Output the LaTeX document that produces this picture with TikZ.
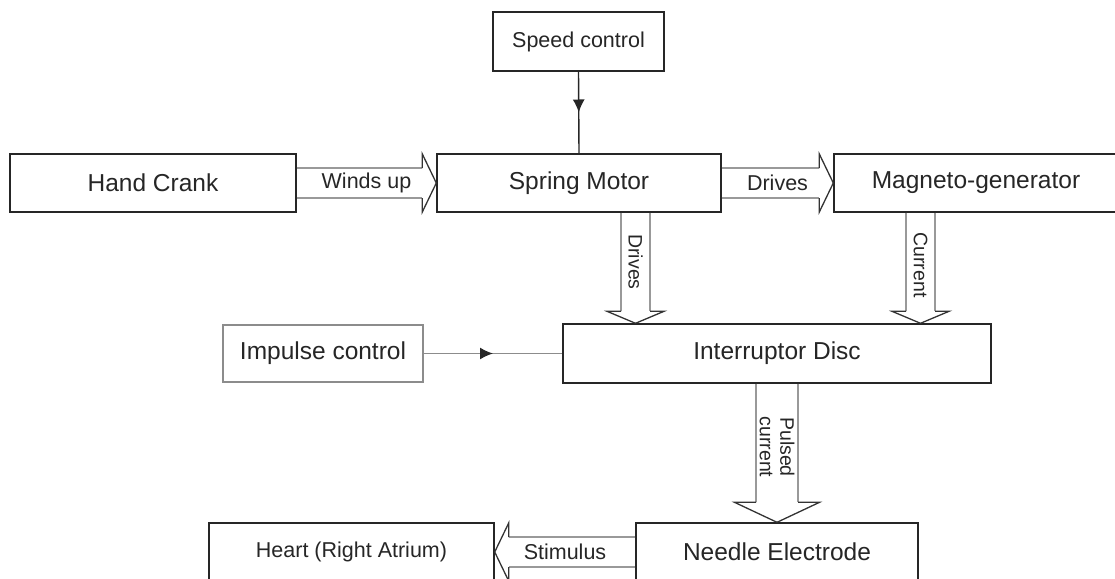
\documentclass[tikz,border=0pt]{standalone}
\usepackage{fontspec}
\setmainfont{Liberation Sans}
\usetikzlibrary{arrows.meta,calc}
\tikzset{
  pmbox/.style={draw=black!85, line width=1.4pt, fill=white, minimum height=58pt,
    inner sep=0pt, text=black!85, font=\fontsize{24.5}{28}\selectfont},
  pmsmall/.style={pmbox, font=\fontsize{21.5}{25}\selectfont},
  pmgrey/.style={pmbox, draw=black!45},
  pmbody/.style={draw=black!40, line width=1.4pt},
  pmhead/.style={draw=black!80, line width=1.3pt, line join=miter},
  pmlabel/.style={text=black!85, inner sep=0pt,
    font=\fontsize{21.5}{25}\selectfont},
  pmvlabel/.style={pmlabel, rotate=-90, align=center,
    font=\fontsize{19.5}{20.5}\selectfont},
  pmline/.style={draw=black!85, line width=1.4pt},
  pmtip/.style={-{Latex[length=13pt,width=12pt,color=black!85]}}
}
\begin{document}
\begin{tikzpicture}[x=1pt, y=-1pt]
  \useasboundingbox (0,0) rectangle (1115,578);
  \clip (0,0) rectangle (1115,578);

  % blocks
  \node[pmsmall, minimum width=171pt, minimum height=59pt] (speed) at (578.5,41.5)
    {Speed control};
  \node[pmbox, minimum width=286pt] (crank) at (153,183) {Hand Crank};
  \node[pmbox, minimum width=284pt] (spring) at (579,183) {Spring Motor};
  \node[pmbox, minimum width=284pt] (magneto) at (976,183) {Magneto-generator};
  \node[pmgrey, minimum width=200pt, minimum height=57pt] (impulse) at (323,353.5)
    {Impulse control};
  \node[pmbox, minimum width=428pt, minimum height=59pt] (interr) at (777,353.5)
    {Interruptor Disc};
  \node[pmbox, minimum width=282pt] (needle) at (777,552) {Needle Electrode};
  \node[pmsmall, minimum width=285pt] (heart) at (351.5,552)
    {Heart (Right Atrium)};

  % control lines
  \draw[pmline, pmtip] (speed.south) -- ($(speed.south)!0.5!(spring.north)$);
  \draw[pmline] ($(speed.south)!0.45!(spring.north)$) -- (spring.north);
  \draw[pmline, draw=black!45] (impulse.east) -- (interr.west);
  \draw[pmline, draw=black!45, pmtip] (impulse.east)
    -- ($(impulse.east)!0.5!(interr.west)$);

  % winds up
  \draw[pmbody] ($(crank.east)+(0,-15)$) -- ($(spring.west)+(-14,-15)$)
    ($(crank.east)+(0,15)$) -- ($(spring.west)+(-14,15)$);
  \draw[pmhead] ($(spring.west)+(-14,-15)$) -- ++(0,-14) -- (spring.west)
    -- ($(spring.west)+(-14,29)$) -- ++(0,-14);
  \node[pmlabel] (windsup) at ($(crank.east)!0.5!(spring.west)$) {Winds up};

  % drives (to magneto)
  \draw[pmbody] ($(spring.east)+(0,-15)$) -- ($(magneto.west)+(-14,-15)$)
    ($(spring.east)+(0,15)$) -- ($(magneto.west)+(-14,15)$);
  \draw[pmhead] ($(magneto.west)+(-14,-15)$) -- ++(0,-14) -- (magneto.west)
    -- ($(magneto.west)+(-14,29)$) -- ++(0,-14);
  \node[pmlabel] (driveh) at ($(spring.east)!0.5!(magneto.west)$) {Drives};

  % drives (to interruptor)
  \coordinate (drtail) at ([xshift=56.5pt]spring.south);
  \coordinate (drtip) at (drtail |- interr.north);
  \draw[pmbody] ($(drtail)+(-14.5,0)$) -- ($(drtip)+(-14.5,-12)$)
    ($(drtail)+(14.5,0)$) -- ($(drtip)+(14.5,-12)$);
  \draw[pmhead] ($(drtip)+(-14.5,-12)$) -- ++(-14,0) -- (drtip)
    -- ($(drtip)+(28.5,-12)$) -- ++(-14,0);
  \node[pmvlabel] (drivev) at ($(drtail)!0.5!(drtip)+(0,-6)$) {Drives};

  % current
  \coordinate (cutail) at ([xshift=-55.5pt]magneto.south);
  \coordinate (cutip) at (cutail |- interr.north);
  \draw[pmbody] ($(cutail)+(-14.5,0)$) -- ($(cutip)+(-14.5,-12)$)
    ($(cutail)+(14.5,0)$) -- ($(cutip)+(14.5,-12)$);
  \draw[pmhead] ($(cutip)+(-14.5,-12)$) -- ++(-14,0) -- (cutip)
    -- ($(cutip)+(28.5,-12)$) -- ++(-14,0);
  \node[pmvlabel] (current) at ($(cutail)!0.5!(cutip)+(0,-3)$) {Current};

  % pulsed current
  \draw[pmbody] ($(interr.south)+(-21,0)$) -- ($(needle.north)+(-21,-20)$)
    ($(interr.south)+(21,0)$) -- ($(needle.north)+(21,-20)$);
  \draw[pmhead] ($(needle.north)+(-21,-20)$) -- ++(-21.5,0) -- (needle.north)
    -- ($(needle.north)+(42.5,-20)$) -- ++(-21.5,0);
  \node[pmvlabel] (pulsed) at ($(interr.south)!0.5!(needle.north)+(0,-6)$)
    {Pulsed\\current};

  % stimulus
  \draw[pmbody] ($(needle.west)+(0,-15)$) -- ($(heart.east)+(14,-15)$)
    ($(needle.west)+(0,15)$) -- ($(heart.east)+(14,15)$);
  \draw[pmhead] ($(heart.east)+(14,-15)$) -- ++(0,-14) -- (heart.east)
    -- ($(heart.east)+(14,29)$) -- ++(0,-14);
  \node[pmlabel] (stimulus) at ($(needle.west)!0.5!(heart.east)$) {Stimulus};
\end{tikzpicture}
\end{document}
